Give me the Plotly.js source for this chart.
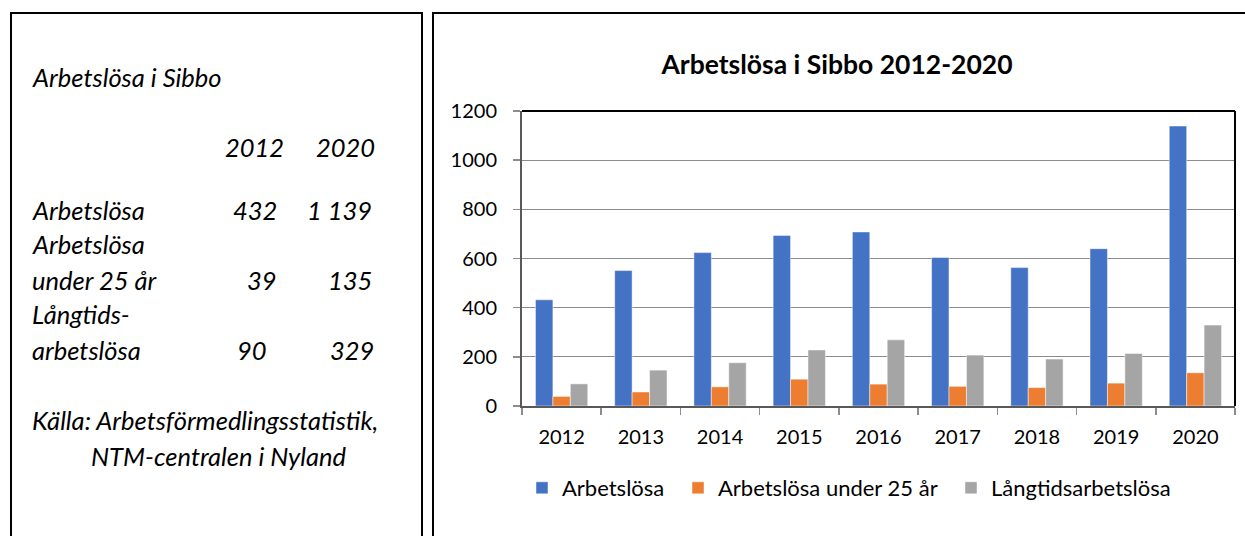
<!DOCTYPE html>
<html>
<head>
<meta charset="utf-8">
<script src="https://cdn.plot.ly/plotly-3.0.1.min.js"></script>
<style>
  html, body { margin: 0; padding: 0; background: #ffffff; }
  #chart { width: 1245px; height: 536px; }
</style>
</head>
<body>
<div id="chart"></div>
<script>
// ---- data ----
const years = ['2012', '2013', '2014', '2015', '2016', '2017', '2018', '2019', '2020'];
const seriesNames = ['Arbetslösa', 'Arbetslösa under 25 år', 'Långtidsarbetslösa'];
const arbetslosa = [432, 551, 624, 694, 708, 604, 563, 640, 1139];
const under25 = [39, 57, 78, 109, 89, 80, 75, 93, 135];
const langtids = [90, 146, 176, 228, 269, 207, 191, 214, 329];
const yTicks = [0, 200, 400, 600, 800, 1000, 1200];
const chartTitle = 'Arbetslösa i Sibbo 2012-2020';
const boxTitle = 'Arbetslösa i Sibbo';
const boxRowLabels = [['Arbetslösa'], ['Arbetslösa', 'under 25 år'], ['Långtids-', 'arbetslösa']];
const sourceLines = ['Källa: Arbetsförmedlingsstatistik,', 'NTM-centralen i Nyland'];

// ---- geometry helpers (pixel -> paper) ----
const W = 1245, Hgt = 536;
const L = 522, R = 1235, T = 111, B = 406;
const px = x => (x - L) / (R - L);
const py = y => (B - y) / (B - T);

const FONT = 'Lato, "Open Sans", sans-serif';
const colors = ['#4472C4', '#ED7D31', '#A5A5A5'];
const allSeries = [arbetslosa, under25, langtids];
const legendIds = ['legend', 'legend2', 'legend3'];

function fmt(n) {
  return String(n).replace(/\B(?=(\d{3})+(?!\d))/g, ' ');
}

const traces = allSeries.map((vals, i) => ({
  type: 'bar',
  name: seriesNames[i],
  x: years,
  y: vals,
  legend: legendIds[i],
  marker: { color: colors[i], line: { color: 'rgba(255,255,255,0.6)', width: 0.8 } },
  hoverinfo: 'skip'
}));

// ---- left box annotations ----
const ann = [];
const italic = { family: FONT, size: 25.5, color: '#000000', style: 'italic' };
function textAt(text, x, y, anchor) {
  const a = anchor || 'left';
  const shift = a === 'left' ? -3 : 3;
  ann.push({
    text: text, xref: 'paper', yref: 'paper', x: px(x + shift), y: py(y),
    xanchor: a, yanchor: 'middle', showarrow: false,
    font: Object.assign({}, italic)
  });
}
textAt(boxTitle, 33, 77);
textAt(years[0], 283, 147, 'right');
textAt(years[years.length - 1], 374, 147, 'right');

const rowYs = [[210], [244, 280], [314, 350]];
const col1X = [276, 276, 266];
const col2X = [371, 371, 373];
boxRowLabels.forEach((lines, r) => {
  lines.forEach((ln, k) => textAt(ln, 33, rowYs[r][k]));
  const yv = rowYs[r][rowYs[r].length - 1];
  textAt(fmt(allSeries[r][0]), col1X[r], yv, 'right');
  textAt(fmt(allSeries[r][allSeries[r].length - 1]), col2X[r], yv, 'right');
});
textAt(sourceLines[0], 33, 420);
textAt(sourceLines[1], 92, 456);

// ---- shapes: boxes and plot border ----
const shapes = [
  { type: 'rect', xref: 'paper', yref: 'paper', x0: px(11), x1: px(422), y0: py(13), y1: py(600),
    line: { color: '#000000', width: 2 }, fillcolor: 'rgba(0,0,0,0)' },
  { type: 'rect', xref: 'paper', yref: 'paper', x0: px(433), x1: px(1260), y0: py(13), y1: py(600),
    line: { color: '#000000', width: 2 }, fillcolor: 'rgba(0,0,0,0)' },
  { type: 'line', xref: 'paper', yref: 'paper', x0: 0, x1: 1, y0: 1, y1: 1,
    line: { color: '#000000', width: 2 } },
  { type: 'line', xref: 'paper', yref: 'paper', x0: 1, x1: 1, y0: 0, y1: 1,
    line: { color: '#000000', width: 2 } }
];

// legend entries: text starts at 562, 718, 991 in the reference
const legendTextStart = [562, 718, 991];
const legendFont = { family: FONT, size: 22, color: '#000000' };

const layout = {
  width: W, height: Hgt,
  margin: { l: L, r: W - R, t: T, b: Hgt - B, pad: 0 },
  paper_bgcolor: '#ffffff', plot_bgcolor: '#ffffff',
  font: { family: FONT, color: '#000000' },
  title: {
    text: '<b>' + chartTitle + '</b>',
    font: { family: FONT, size: 26.5, color: '#000000' },
    xref: 'container', x: 837 / W, xanchor: 'center',
    yref: 'container', y: 1 - 65 / Hgt, yanchor: 'middle'
  },
  barmode: 'group', bargap: 0.34, bargroupgap: 0,
  showlegend: true,
  xaxis: {
    type: 'category', tickson: 'boundaries', ticks: 'outside', ticklen: 7,
    tickcolor: '#8c8c8c', tickwidth: 1.5,
    showline: true, linecolor: '#595959', linewidth: 2,
    showgrid: false, zeroline: false,
    tickfont: { family: FONT, size: 20, color: '#000000' },
    ticklabelstandoff: 12, fixedrange: true
  },
  yaxis: {
    range: [0, 1200], tickvals: yTicks, ticktext: yTicks.map(String),
    ticks: 'outside', ticklen: 7, tickcolor: '#8c8c8c', tickwidth: 1.5,
    showline: true, linecolor: '#595959', linewidth: 2,
    showgrid: true, gridcolor: '#8c8c8c', gridwidth: 1.3, zeroline: false,
    tickfont: { family: FONT, size: 20, color: '#000000' },
    ticklabelstandoff: 12, fixedrange: true
  },
  annotations: ann,
  shapes: shapes
};

legendIds.forEach((id, i) => {
  layout[id] = {
    orientation: 'h', x: px(legendTextStart[i] - 40), xanchor: 'left',
    y: py(488), yanchor: 'middle',
    font: legendFont, bgcolor: 'rgba(0,0,0,0)', borderwidth: 0
  };
});

Plotly.newPlot('chart', traces, layout, { staticPlot: true, displayModeBar: false });
</script>
</body>
</html>
